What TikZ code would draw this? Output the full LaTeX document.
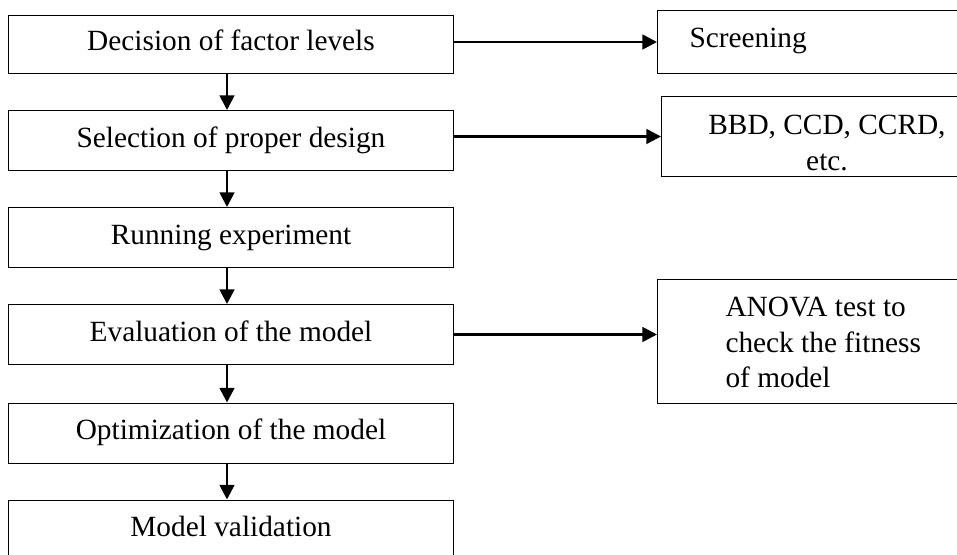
\documentclass[tikz,border=0pt]{standalone}
\usepackage{fontspec}
\setmainfont{Liberation Serif}
\usetikzlibrary{arrows.meta}

\tikzset{every picture/.style={line width=0.75pt}}
\tikzset{
  stepbox/.style={draw, rectangle, minimum width=333.75pt, minimum height=45pt, inner sep=0pt, text height=15pt, text depth=5pt, font=\fontsize{22}{26.5}\selectfont},
  sidebox/.style={draw, rectangle, minimum width=260pt, inner sep=0pt, anchor=north west},
  sidetext/.style={inner sep=0pt, font=\fontsize{22}{26.5}\selectfont},
  flow/.style={line width=2pt, -{Triangle[length=11pt,width=11pt]}}
}

\begin{document}
\begin{tikzpicture}[x=0.75pt,y=0.75pt,yscale=-1,xscale=1]
\useasboundingbox (0,0) rectangle (957,554);
\clip (0,0) rectangle (957,554);

%Shape: Rectangle [steps]
\node[stepbox, minimum height=43.5pt] (decision) at (231,44) {Decision of factor levels};
%Shape: Rectangle
\node[stepbox] (selection) at (231,140.5) {Selection of proper design};
%Shape: Rectangle
\node[stepbox] (running) at (231,237.5) {Running experiment};
%Shape: Rectangle
\node[stepbox] (evaluation) at (231,334.5) {Evaluation of the model};
%Shape: Rectangle
\node[stepbox] (optimization) at (231,433) {Optimization of the model};
%Shape: Rectangle
\node[stepbox] (validation) at (231,530) {Model validation};

%Shape: Rectangle [side boxes]
\node[sidebox, minimum height=47.25pt] (screening) at (657,10) {};
%Shape: Rectangle
\node[sidebox, minimum height=60pt] (designs) at (661,96) {};
%Shape: Rectangle
\node[sidebox, minimum height=93pt] (anova) at (657,279) {};

% Text Node
\node[sidetext, anchor=base west] (screeningtext) at (689,47) {Screening};
% Text Node (last line is cut by the box)
\begin{scope}
\clip (designs.north west) rectangle (designs.east |- 0,172);
\node[sidetext, align=center, anchor=base] (designstext) at (827,170.3) {BBD, CCD, CCRD,\\etc.};
\end{scope}
% Text Node
\node[sidetext, align=left, anchor=base west] (anovatext) at (725,387.6) {ANOVA test to\\check the fitness\\of model};

%Straight Lines [down]
\draw[flow] ([xshift=-3pt]decision.south) -- ([xshift=-3pt]selection.north);
%Straight Lines
\draw[flow] ([xshift=-3pt]selection.south) -- ([xshift=-3pt]running.north);
%Straight Lines
\draw[flow] ([xshift=-3pt]running.south) -- ([xshift=-3pt]evaluation.north);
%Straight Lines
\draw[flow] ([xshift=-3pt]evaluation.south) -- ([xshift=-3pt]optimization.north);
%Straight Lines
\draw[flow] ([xshift=-3pt]optimization.south) -- ([xshift=-3pt]validation.north);

%Straight Lines [across]
\draw[flow] (screening.west -| decision.east) -- (screening.west);
%Straight Lines
\draw[flow] (designs.west -| selection.east) -- (designs.west);
%Straight Lines
\draw[flow] (evaluation.east) -- (evaluation.east -| anova.west);

\end{tikzpicture}
\end{document}
